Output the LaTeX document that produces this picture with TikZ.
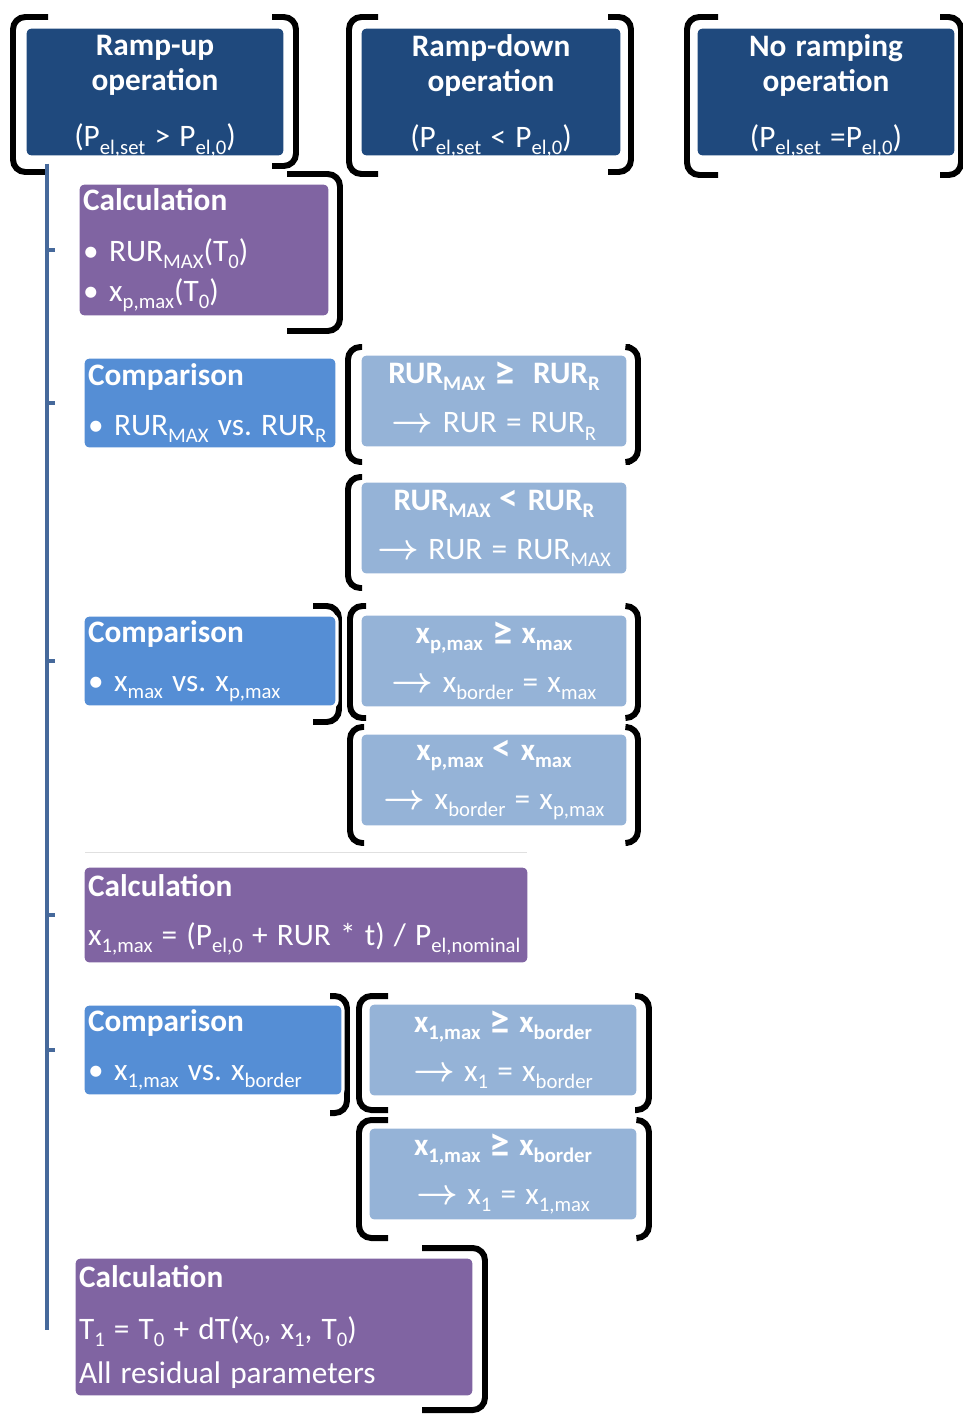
\documentclass[tikz,border=0pt]{standalone}
\usepackage{fontspec}
\setmainfont{Carlito}[WordSpace=1.3]
\usepackage{xcolor}
\definecolor{rmphead}{HTML}{1F497D}
\definecolor{rmpcalc}{HTML}{8064A2}
\definecolor{rmpcomp}{HTML}{558ED5}
\definecolor{rmpres}{HTML}{95B3D7}
\definecolor{rmpline}{HTML}{46699B}
\usetikzlibrary{positioning,calc}
\newcommand\rmpsub[1]{\raisebox{-4pt}{\fontsize{11.8}{12}\selectfont #1}}
\newcommand\rmparr{\scalebox{1.2}{\boldmath$\rightarrow$}}
\newcommand\rmpge{\raisebox{-1pt}{\scalebox{1.3}{≥}}}
\newcommand\rmplt{\scalebox{1.2}{<}}
\newcommand\rmpbrk[4]{\draw[rmpbrkline] (#4,#2) -- (#1,#2) -- (#1,#3) -- (#4,#3);}
\tikzset{
  rmpbox/.style={draw=white,line width=1.8pt,rounded corners=3.5pt,text=white,inner xsep=0.1cm,inner ysep=2pt,font=\fontsize{17.8}{23}\selectfont\frenchspacing},
  rmphbox/.style={rmpbox,fill=rmphead,minimum width=5.2cm,minimum height=2.6cm},
  rmphtext/.style={text=white,inner sep=0pt,align=flush center,text width=5.0cm,font=\fontsize{17.8}{20}\selectfont},
  rmpcalcbox/.style={rmpbox,fill=rmpcalc,align=flush left},
  rmpcompbox/.style={rmpbox,fill=rmpcomp,align=flush left,text width=4.88cm,minimum height=1.84cm},
  rmpresbox/.style={rmpbox,fill=rmpres,align=flush center,text width=5.16cm,minimum height=1.88cm},
  rmpbrkline/.style={black,line width=3.4pt,rounded corners=7pt},
  rmptrunk/.style={rmpline,line width=2.8pt},
}

\begin{document}
\begin{tikzpicture}[x=0.02cm,y=-0.02cm]
\useasboundingbox (0,0) rectangle (963,1414);
\rmpbrk{13}{17}{172}{48}\rmpbrk{296}{17}{166}{272}
\rmpbrk{349}{17}{174}{378}\rmpbrk{631}{17}{172}{608}
\rmpbrk{687}{17}{175}{718}\rmpbrk{961}{17}{175}{940}
\rmpbrk{340}{174}{331}{287}
\rmpbrk{348}{347}{462}{362}\rmpbrk{638}{347}{462}{630}
\rmpbrk{348}{477}{588}{362}
\rmpbrk{339}{606}{722}{313}
\rmpbrk{350}{606}{718}{366}\rmpbrk{638}{606}{718}{626}
\rmpbrk{350}{727}{843}{364}\rmpbrk{638}{727}{843}{628}
\rmpbrk{347}{996}{1113}{330}
\rmpbrk{359}{996}{1110}{388}\rmpbrk{649}{996}{1110}{635}
\rmpbrk{359}{1120}{1238}{388}\rmpbrk{649}{1120}{1238}{638}
\rmpbrk{485}{1248}{1410}{422}
\node[rmphbox] (up) at (155,92) {};
\node[rmphtext] (uptext) at ($(up)+(0,4)$) {\textbf{Ramp-up}\\\textbf{operation}\\[12pt](P\rmpsub{el,set} > P\rmpsub{el,0})};
\node[rmphbox,minimum width=5.24cm] (down) at (491,92) {};
\node[rmphtext] (downtext) at ($(down)+(0,4)$) {\textbf{Ramp-down}\\\textbf{operation}\\[12pt](P\rmpsub{el,set} < P\rmpsub{el,0})};
\node[rmphbox] (noramp) at (826,92) {};
\node[rmphtext] (noramptext) at ($(noramp)+(0,4)$) {\textbf{No ramping}\\\textbf{operation}\\[12pt](P\rmpsub{el,set} =P\rmpsub{el,0})};
\coordinate (tk) at (47,1330);
\draw[rmptrunk] ($(up.south west -| tk)+(0,5)$) -- (tk);
\node[rmpcalcbox,text width=4.84cm,minimum height=2.68cm] (calcA) at (204,250) {\textbf{Calculation}\\[6pt]\textbullet\hspace{6pt}RUR\rmpsub{MAX}(T\rmpsub{0})\\\textbullet\hspace{6pt}x\rmpsub{p,max}(T\rmpsub{0})};
\node[rmpcompbox] (compA) at (210,403) {\textbf{Comparison}\\[5pt]\textbullet\hspace{6pt}RUR\rmpsub{MAX} vs. RUR\rmpsub{R}};
\node[rmpresbox] (geA) at (494,401) {\textbf{RUR\rmpsub{MAX} \rmpge\ \ RUR\rmpsub{R}}\\[5pt]\rmparr\ RUR = RUR\rmpsub{R}};
\node[rmpresbox] (ltA) at (494,528) {\textbf{RUR\rmpsub{MAX} \rmplt\ RUR\rmpsub{R}}\\[5pt]\rmparr\ RUR = RUR\rmpsub{MAX}};
\node[rmpcompbox] (compB) at (210,661) {\textbf{Comparison}\\[5pt]\textbullet\hspace{6pt}x\rmpsub{max} vs. x\rmpsub{p,max}};
\node[rmpresbox] (geB) at (494,661) {\textbf{x\rmpsub{p,max} \rmpge\ x\rmpsub{max}}\\[5pt]\rmparr\ x\rmpsub{border} = x\rmpsub{max}};
\node[rmpresbox] (ltB) at (494,780) {\textbf{x\rmpsub{p,max} \rmplt\ x\rmpsub{max}}\\[5pt]\rmparr\ x\rmpsub{border} = x\rmpsub{p,max}};
\node[rmpcalcbox,text width=8.72cm,minimum height=1.96cm] (calcB) at (306,915) {\textbf{Calculation}\\[5pt]x\rmpsub{1,max} = (P\rmpsub{el,0} + RUR * t) / P\rmpsub{el,nominal}};
\draw[black!12,line width=0.6pt] ($(calcB.north west)+(4,-12)$) -- ($(calcB.north east)+(-4,-12)$);
\node[rmpcompbox,text width=5.0cm] (compC) at (213,1050) {\textbf{Comparison}\\[5pt]\textbullet\hspace{6pt}x\rmpsub{1,max} vs. x\rmpsub{border}};
\node[rmpresbox,text width=5.2cm] (geC) at (503,1050) {\textbf{x\rmpsub{1,max} \rmpge\ x\rmpsub{border}}\\[5pt]\rmparr\ x\rmpsub{1} = x\rmpsub{border}};
\node[rmpresbox,text width=5.2cm] (geD) at (503,1174) {\textbf{x\rmpsub{1,max} \rmpge\ x\rmpsub{border}}\\[5pt]\rmparr\ x\rmpsub{1} = x\rmpsub{1,max}};
\node[rmpcalcbox,text width=7.8cm,minimum height=2.8cm,font=\fontsize{17.8}{25.5}\selectfont] (calcC) at (274,1327) {\textbf{Calculation}\\[4pt]T\rmpsub{1} = T\rmpsub{0} + dT(x\rmpsub{0}, x\rmpsub{1}, T\rmpsub{0})\\All residual parameters};
\foreach \n in {calcA,compA,compB,calcB,compC}
  \draw[rmptrunk] (\n.west -| tk) -- ++(8,0);
\end{tikzpicture}
\end{document}
